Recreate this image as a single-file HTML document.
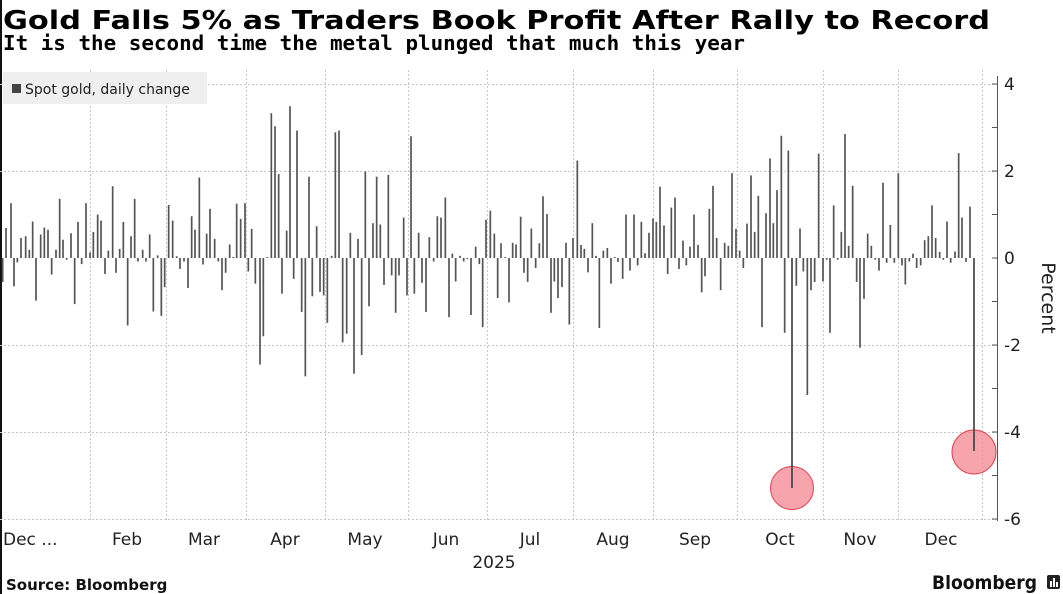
<!DOCTYPE html>
<html><head><meta charset="utf-8"><style>
html,body{margin:0;padding:0;background:#fff;}
svg{display:block;}
text{font-family:"DejaVu Sans","Liberation Sans",sans-serif;}
</style></head><body>
<svg id="s" width="1063" height="594" viewBox="0 0 1063 594" xmlns="http://www.w3.org/2000/svg">
<rect x="0" y="0" width="1063" height="594" fill="#fff"/>
<rect x="0" y="0" width="2" height="594" fill="#111"/>
<text x="3" y="29" font-size="26" font-weight="bold" fill="#000" textLength="987" lengthAdjust="spacingAndGlyphs">Gold Falls 5% as Traders Book Profit After Rally to Record</text>
<text x="3" y="50" font-size="20" font-weight="bold" fill="#000" style="font-family:'DejaVu Sans Mono','Liberation Mono',monospace" textLength="742" lengthAdjust="spacingAndGlyphs">It is the second time the metal plunged that much this year</text>
<g id="grid" stroke="#c8c8c8" stroke-width="1" stroke-dasharray="2,2"></g>
<g id="bars" fill="#555"></g>
<circle cx="792" cy="488" r="21.5" fill="#f58d98" fill-opacity="0.8" stroke="#e0404e" stroke-width="1"/>
<circle cx="974" cy="452" r="22" fill="#f58d98" fill-opacity="0.8" stroke="#e0404e" stroke-width="1"/>
<line x1="792" y1="258" x2="792" y2="488" stroke="#444" stroke-width="1.7"/>
<line x1="974" y1="258" x2="974" y2="451" stroke="#444" stroke-width="1.7"/>
<rect x="3" y="72" width="204" height="32" fill="#efefef"/>
<rect x="12" y="84" width="9" height="9" fill="#444"/>
<text x="25" y="94" font-size="14" fill="#222">Spot gold, daily change</text>
<line x1="997.5" y1="76" x2="997.5" y2="521" stroke="#555" stroke-width="1"/>
<g id="ax" font-size="17" fill="#222"></g>
<text transform="translate(1042,298) rotate(90)" text-anchor="middle" font-size="19" fill="#222">Percent</text>
<g font-size="17" fill="#222">
<text x="3" y="545">Dec ...</text>
<text x="127" y="545" text-anchor="middle">Feb</text>
<text x="204" y="545" text-anchor="middle">Mar</text>
<text x="285" y="545" text-anchor="middle">Apr</text>
<text x="365" y="545" text-anchor="middle">May</text>
<text x="446" y="545" text-anchor="middle">Jun</text>
<text x="530" y="545" text-anchor="middle">Jul</text>
<text x="613" y="545" text-anchor="middle">Aug</text>
<text x="695" y="545" text-anchor="middle">Sep</text>
<text x="780" y="545" text-anchor="middle">Oct</text>
<text x="860" y="545" text-anchor="middle">Nov</text>
<text x="941" y="545" text-anchor="middle">Dec</text>
<text x="494" y="568" text-anchor="middle">2025</text>
</g>
<text x="6" y="590" font-size="15" font-weight="bold" fill="#111">Source: Bloomberg</text>
<text x="932" y="589" font-size="19" font-weight="bold" fill="#111" textLength="105" lengthAdjust="spacingAndGlyphs">Bloomberg</text>
<rect x="1047" y="575" width="13" height="14" rx="2" fill="#222"/>
<rect x="1050" y="581" width="2" height="6" fill="#fff"/><rect x="1053" y="578" width="2" height="9" fill="#fff"/><rect x="1056" y="582" width="2" height="5" fill="#fff"/>
</svg>
<script>
var NS="http://www.w3.org/2000/svg";
function el(p,t,a){var e=document.createElementNS(NS,t);for(var k in a)e.setAttribute(k,a[k]);p.appendChild(e);return e;}
var Z=258,U=43.5;
var g=document.getElementById('grid');
[4,2,-2,-4,-6].forEach(function(v){var y=Z-v*U+0.5;el(g,'line',{x1:0,y1:y,x2:997,y2:y});});
[90,166,246,325,408,487,573,653,737,823,898,982].forEach(function(x){el(g,'line',{x1:x+0.5,y1:70,x2:x+0.5,y2:522});});
var ax=document.getElementById('ax');
for(var v=-6;v<=4;v++){var y=Z-v*U;el(ax,'line',{x1:992,y1:y,x2:998,y2:y,stroke:'#555','stroke-width':1});
 if(v%2==0){var t=el(ax,'text',{x:1004,y:y+6});t.textContent=(v<0?'-':'')+Math.abs(v);}}
var D=[[0,[8,-.55,18,.69,33,1.26,42,-.65,52,-.1,63,.46,77,.5,88,.19,98,.84,108,-.98,122,.54,133,.7,144,.65,155,-.38,168,.19,179,1.36,189,.42,200,-.04,213,.57,224,-1.06,234,.83,245,-.14,258,1.26,270,.13,280,.6,293,1,303,.86,315,-.37,325,.17,338,1.65,348,-.34,359,.21,370,.83,383,-1.55,393,.5,404,1.36,414,-.08,428,.19,438,-.08,449,.54,460,-1.23,473,.06,484,-1.33,494,-.67,506,1.22,518,.86,530,.04,540,-.25,552,-.08,564,-.69,575,.96,585,.65,598,1.85,609,-.15,620,.56,630,1.13,644,.44,655,-.08,666,-.74,677,-.34,689,.31,700,.02,710,1.25,722,.9,735,1.26,745,-.31]],
[250,[5,.67,16,-.59,30,-2.45,40,-1.8,52,.02,64,3.33,75,3.03,86,1.93,96,-.82,110,.63,120,3.49,131,-.48,141,2.93,155,-1.24,166,-2.72,177,1.87,187,-.88,200,.73,210,-.78,221,-.86,232,-1.49,245,.05,256,2.89,267,2.93,278,-1.94,290,-1.74,301,.58,312,-2.66,324,.44,335,-2.23,346,1.99,357,-1.11,369,.8,380,1.87,391,.77,402,-.62,415,1.91,425,-.4,437,-1.26,447,-.4,461,.93,471,-.86,483,2.8,493,-.82,506,.58,516,-.57,528,-1.24,538,.48,551,-.08,562,.96,573,.93,586,1.39,597,-1.36,607,.1,617,-.54,630,.05,641,-.08,652,-.02,663,-1.31,677,.26,688,-.14,698,-1.59,708,.88,721,1.09,733,.56,743,-.92]],
[500,[3,.34,16,.01,27,-1.02,38,.35,48,.31,62,.95,72,-.34,83,-.55,94,.68,107,-.23,118,.34,129,1.42,141,1.01,153,-1.26,163,-.54,174,-.92,186,-.67,198,.35,208,-1.53,219,.46,232,2.24,243,.3,253,.21,264,-.33,277,.8,288,.05,298,-1.61,310,.17,322,.23,333,-.59,344,.02,354,-.09,368,-.48,378,1,390,-.29,402,1,413,-.17,424,.83,435,.11,447,.58,459,.91,469,.83,480,1.64,492,.75,503,-.37,514,1.16,525,1.39,537,-.25,549,.4,559,-.17,570,.26,582,1,594,.3,605,-.79,615,-.42,628,1.13,639,1.66,650,.46,662,-.74,674,.35,685,.28,696,1.95,708,.67,719,.17,730,-.23,741,.79]],
[750,[3,1.9,14,.6,25,1.43,36,-1.59,48,1.03,60,2.29,70,.8,81,1.56,94,2.81,104,-1.72,115,2.47,139,-.64,150,.68,160,-.31,172,-3.15,183,-.74,194,-.55,206,2.4,219,-.54,230,-.04,240,-1.72,251,1.21,263,-.04,274,.6,285,2.85,296,.28,308,1.66,320,-.55,330,-2.06,342,-.94,353,.56,364,.28,376,-.04,387,-.29,399,1.73,410,-.11,421,.76,433,-.11,445,1.95,456,-.17,466,-.61,478,-.08,489,.1,500,-.23,512,-.17,524,.41,535,.5,546,1.21,557,.46,569,.14,580,-.04,591,.84,602,-.11,615,.15,626,2.41,636,.93,648,-.09,660,1.18]]];
var b=document.getElementById('bars');
D.forEach(function(s){var o=s[0],a=s[1];for(var i=0;i<a.length;i+=2){var x=o+a[i]/3,v=a[i+1],h=Math.max(Math.abs(v)*U,1);
 el(b,'rect',{x:(x-0.85).toFixed(2),y:(v>=0?Z-h:Z).toFixed(2),width:1.7,height:h.toFixed(2)});}});
</script>
</body></html>
